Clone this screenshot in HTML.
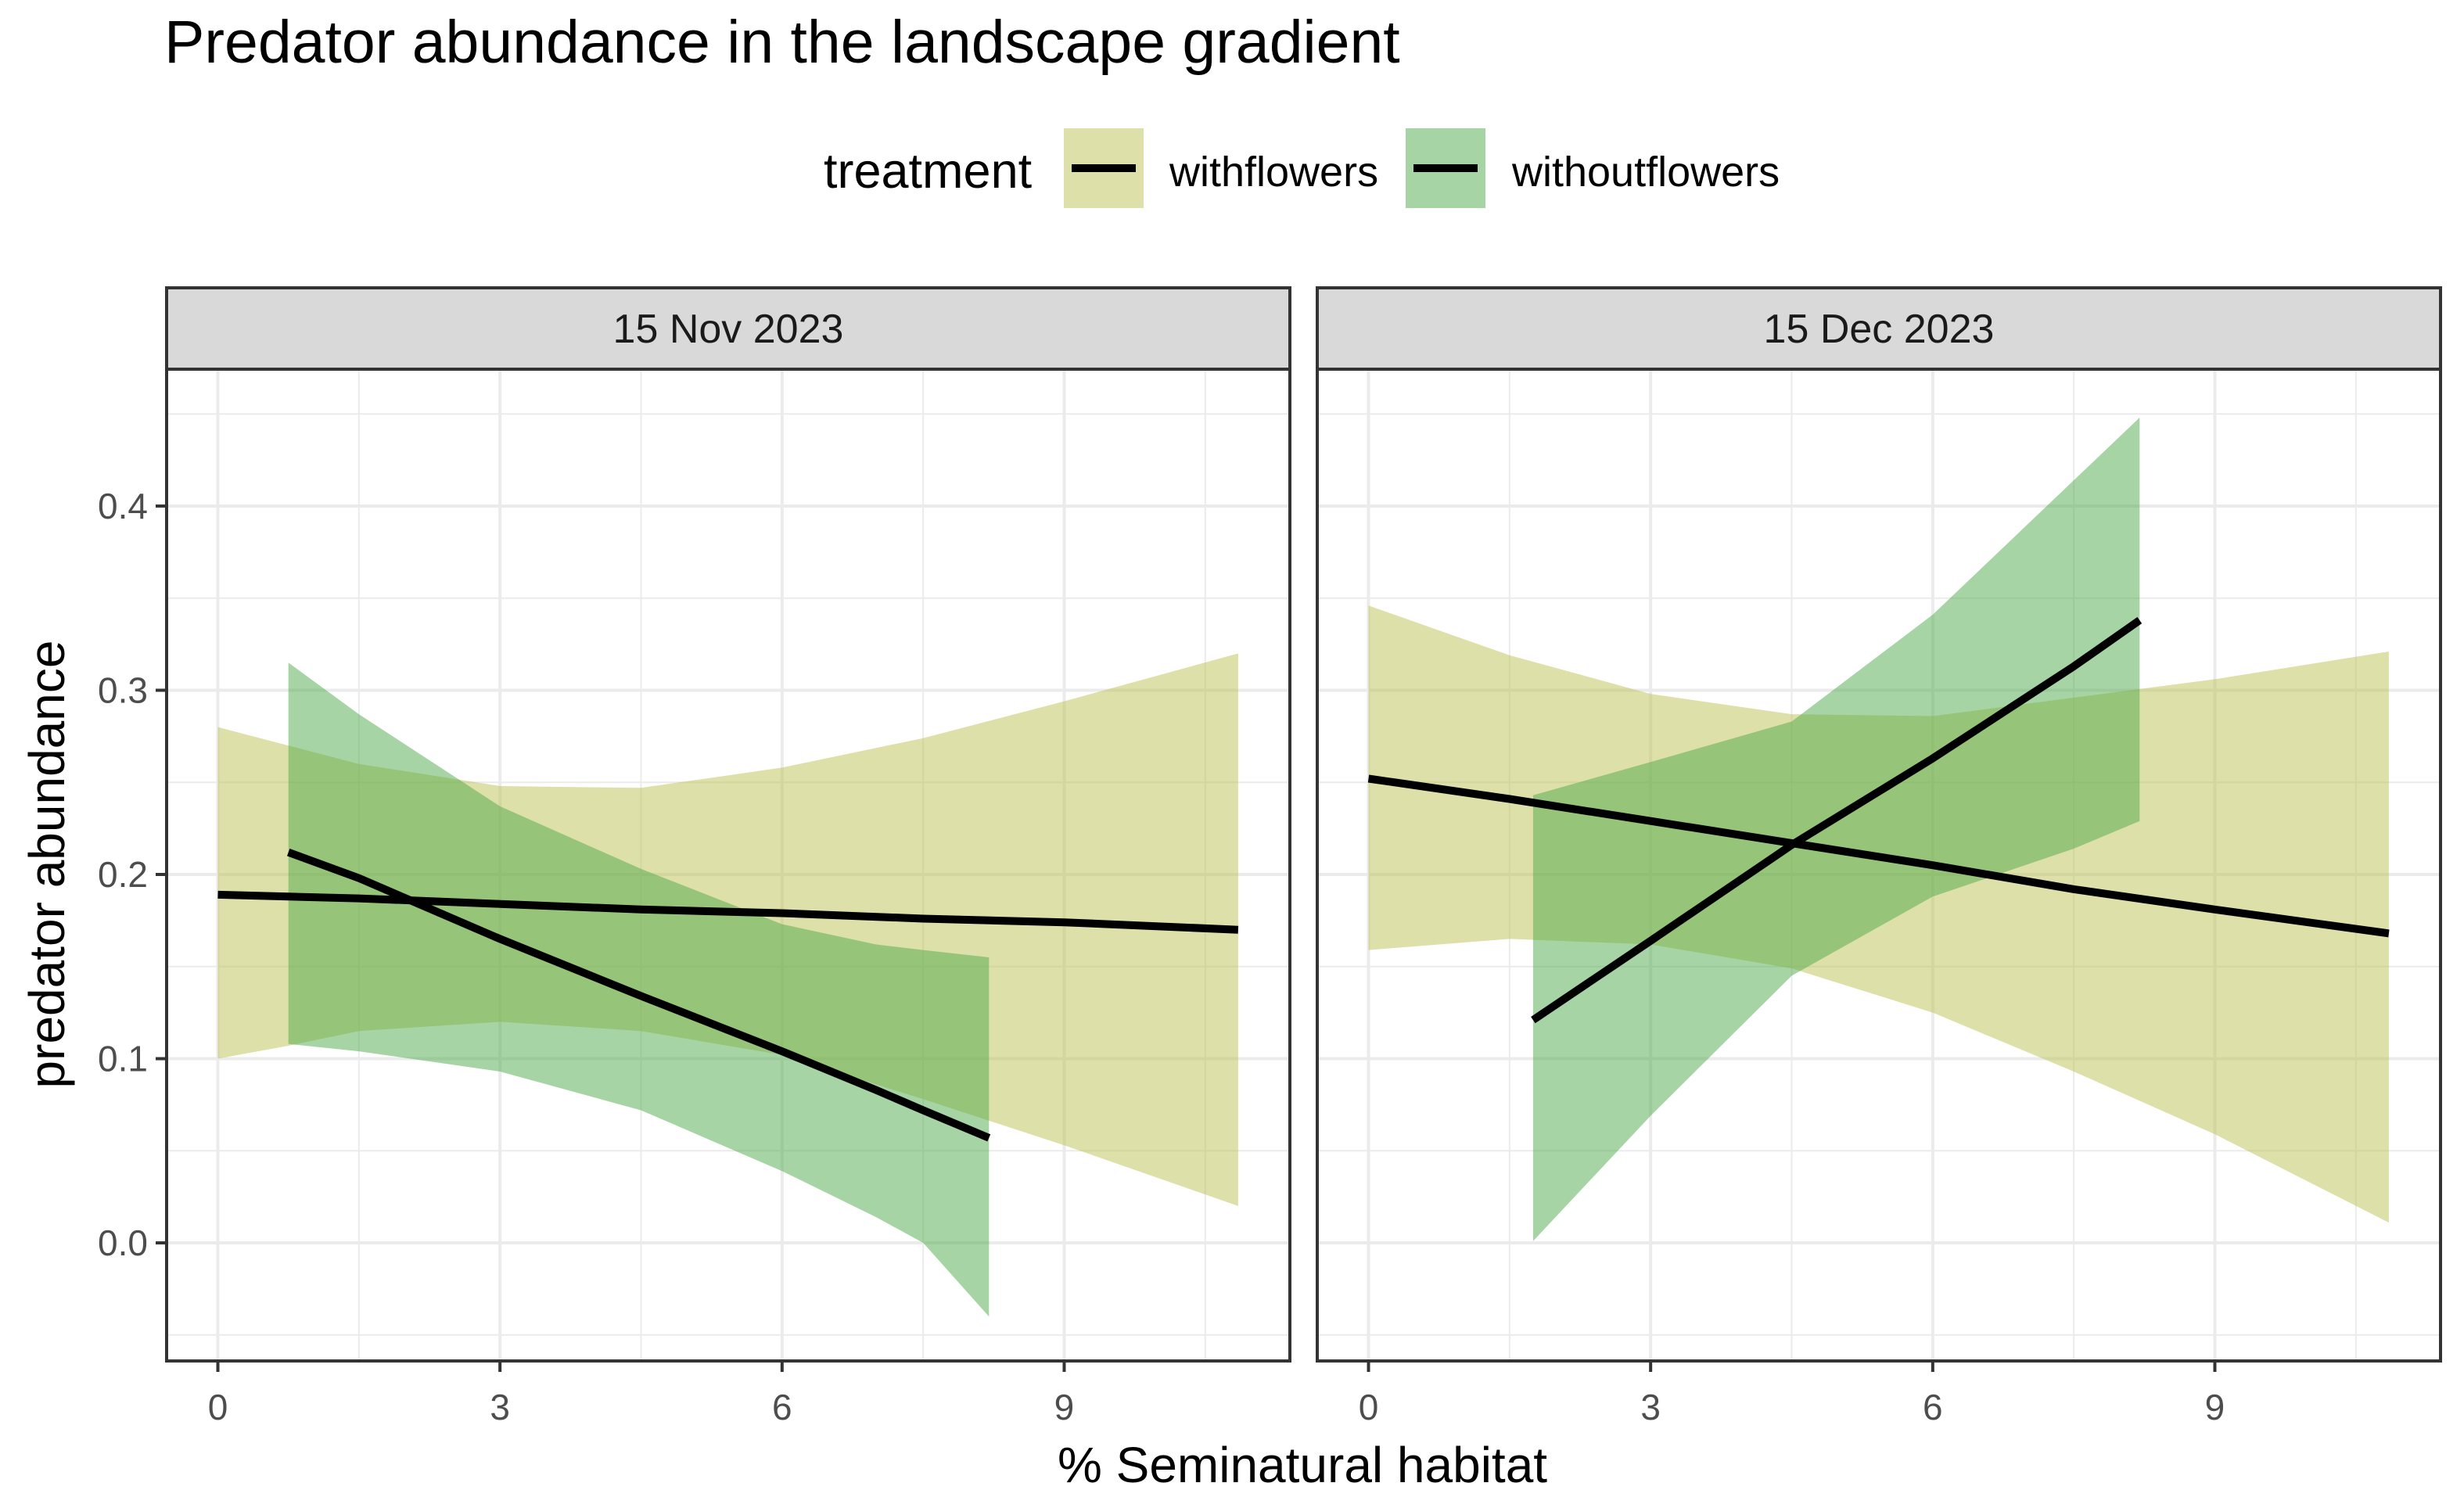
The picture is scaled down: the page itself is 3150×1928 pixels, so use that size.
<!DOCTYPE html>
<html><head><meta charset="utf-8"><style>
html,body{margin:0;padding:0;background:#fff;}
svg{display:block;font-family:"Liberation Sans",Arial,sans-serif;}
</style></head><body>
<svg id="chart" width="3150" height="1928" viewBox="0 0 3150 1928" xmlns="http://www.w3.org/2000/svg">
<text x="210" y="80" font-size="77" fill="#000">Predator abundance in the landscape gradient</text>
<g>
<text x="1053" y="240" font-size="63" fill="#000">treatment</text>
<g>
<rect x="1360" y="164" width="102" height="102" fill="#dde0a8"/>
<rect x="1370" y="210" width="82" height="10" fill="#000"/>
<text x="1495" y="238" font-size="54" fill="#000">withflowers</text>
</g>
<g>
<rect x="1797" y="164" width="102" height="102" fill="#a7d4a4"/>
<rect x="1807" y="210" width="82" height="10" fill="#000"/>
<text x="1933" y="238" font-size="54" fill="#000">withoutflowers</text>
</g>
</g>
<g id="panels"></g>
<text x="1665" y="1895" font-size="64" text-anchor="middle" fill="#000">% Seminatural habitat</text>
<text transform="translate(82,1105) rotate(-90)" font-size="64" text-anchor="middle" fill="#000">predator abundance</text>
</svg>
<script>
const panelTitles = ["15 Nov 2023", "15 Dec 2023"];
const xTicks = [0, 3, 6, 9];
const yTicks = [0.0, 0.1, 0.2, 0.3, 0.4];
const yTickLabels = ["0.0", "0.1", "0.2", "0.3", "0.4"];

// Panel 1 withflowers
const p1wfX = [0, 0.75, 1.5, 3, 4.5, 6, 7.5, 9, 10.85];
const p1wfFit = [0.189, 0.188, 0.187, 0.184, 0.181, 0.179, 0.176, 0.174, 0.170];
const p1wfHi = [0.280, 0.270, 0.260, 0.248, 0.247, 0.258, 0.274, 0.294, 0.320];
const p1wfLo = [0.100, 0.107, 0.115, 0.120, 0.115, 0.102, 0.078, 0.053, 0.020];
// Panel 1 withoutflowers
const p1woX = [0.75, 1.5, 3, 4.5, 6, 7, 7.5, 8.2];
const p1woFit = [0.212, 0.198, 0.165, 0.134, 0.104, 0.083, 0.072, 0.057];
const p1woHi = [0.315, 0.287, 0.237, 0.203, 0.173, 0.162, 0.159, 0.155];
const p1woLo = [0.108, 0.104, 0.093, 0.072, 0.039, 0.014, 0.000, -0.040];
// Panel 2 withflowers
const p2wfX = [0, 1.5, 3, 4.5, 6, 7.5, 9, 10.85];
const p2wfFit = [0.252, 0.241, 0.229, 0.217, 0.205, 0.192, 0.181, 0.168];
const p2wfHi = [0.346, 0.319, 0.298, 0.287, 0.286, 0.296, 0.306, 0.321];
const p2wfLo = [0.159, 0.165, 0.162, 0.149, 0.125, 0.093, 0.059, 0.011];
// Panel 2 withoutflowers
const p2woX = [1.75, 3, 4.5, 6, 7.5, 8.2];
const p2woFit = [0.121, 0.164, 0.216, 0.263, 0.313, 0.338];
const p2woHi = [0.243, 0.261, 0.283, 0.341, 0.414, 0.448];
const p2woLo = [0.001, 0.069, 0.145, 0.188, 0.214, 0.229];

const NS = "http://www.w3.org/2000/svg";
const root = document.getElementById("panels");
function mk(tag, attrs, parent) {
  const e = document.createElementNS(NS, tag);
  for (const k in attrs) e.setAttribute(k, attrs[k]);
  parent.appendChild(e);
  return e;
}
const xMin = -0.545, xMax = 11.4, yMin = -0.0641, yMax = 0.4743;
const stripTop = 368, pTop = 472, pBottom = 1740;
const panelLefts = [213, 1684], panelW = 1436;
function yS(v) { return pBottom - (v - yMin) / (yMax - yMin) * (pBottom - pTop); }

const series = [
  [{x:p1wfX,f:p1wfFit,h:p1wfHi,l:p1wfLo,c:"rgb(187,193,81)",n:"withflowers"},
   {x:p1woX,f:p1woFit,h:p1woHi,l:p1woLo,c:"rgb(79,169,73)",n:"withoutflowers"}],
  [{x:p2wfX,f:p2wfFit,h:p2wfHi,l:p2wfLo,c:"rgb(187,193,81)",n:"withflowers"},
   {x:p2woX,f:p2woFit,h:p2woHi,l:p2woLo,c:"rgb(79,169,73)",n:"withoutflowers"}]
];

panelTitles.forEach((title, pi) => {
  const L = panelLefts[pi];
  const xS = v => L + (v - xMin) / (xMax - xMin) * panelW;
  const g = mk("g", {}, root);
  
  
  const strip = mk("rect", {x:L, y:stripTop, width:panelW, height:pTop-stripTop, fill:"#d9d9d9", stroke:"#333", "stroke-width":4}, g);
  
  
  const st = mk("text", {x:L+panelW/2, y:438, "font-size":52, "text-anchor":"middle", fill:"#1a1a1a"}, g);
  st.textContent = title;
  
  
  for (let v = 0.05; v < yMax; v += 0.1) mk("line", {x1:L, x2:L+panelW, y1:yS(v), y2:yS(v), stroke:"#ebebeb", "stroke-width":2}, g);
  mk("line", {x1:L, x2:L+panelW, y1:yS(-0.05), y2:yS(-0.05), stroke:"#ebebeb", "stroke-width":2}, g);
  [1.5, 4.5, 7.5, 10.5].forEach(v => mk("line", {x1:xS(v), x2:xS(v), y1:pTop, y2:pBottom, stroke:"#ebebeb", "stroke-width":2}, g));
  yTicks.forEach(v => mk("line", {x1:L, x2:L+panelW, y1:yS(v), y2:yS(v), stroke:"#ebebeb", "stroke-width":4}, g));
  xTicks.forEach(v => mk("line", {x1:xS(v), x2:xS(v), y1:pTop, y2:pBottom, stroke:"#ebebeb", "stroke-width":4}, g));
  series[pi].forEach(s => {
    let d = "";
    s.x.forEach((xv, i) => { d += (i ? "L" : "M") + xS(xv).toFixed(1) + "," + yS(s.h[i]).toFixed(1); });
    for (let i = s.x.length - 1; i >= 0; i--) d += "L" + xS(s.x[i]).toFixed(1) + "," + yS(s.l[i]).toFixed(1);
    const p = mk("path", {d: d + "Z", fill:s.c, "fill-opacity":0.5}, g);
    
    
  });
  series[pi].forEach(s => {
    const pts = s.x.map((xv, i) => xS(xv).toFixed(1) + "," + yS(s.f[i]).toFixed(1)).join(" ");
    const ln = mk("polyline", {points:pts, fill:"none", stroke:"#000", "stroke-width":10, "stroke-linejoin":"round"}, g);
    
    
  });
  mk("rect", {x:L, y:pTop, width:panelW, height:pBottom-pTop, fill:"none", stroke:"#333", "stroke-width":4}, g);
  xTicks.forEach(v => {
    mk("line", {x1:xS(v), x2:xS(v), y1:pBottom, y2:pBottom+14, stroke:"#333", "stroke-width":4}, g);
    const t = mk("text", {x:xS(v), y:1815, "font-size":46, "text-anchor":"middle", fill:"#4d4d4d"}, g);
    t.textContent = String(v);
    
    
  });
  if (pi === 0) {
    yTicks.forEach((v, i) => {
      mk("line", {x1:L-14, x2:L, y1:yS(v), y2:yS(v), stroke:"#333", "stroke-width":4}, g);
      const t = mk("text", {x:L-24, y:yS(v)+16, "font-size":46, "text-anchor":"end", fill:"#4d4d4d"}, g);
      t.textContent = yTickLabels[i];
      
      
    });
  }
});
</script>
</body></html>
